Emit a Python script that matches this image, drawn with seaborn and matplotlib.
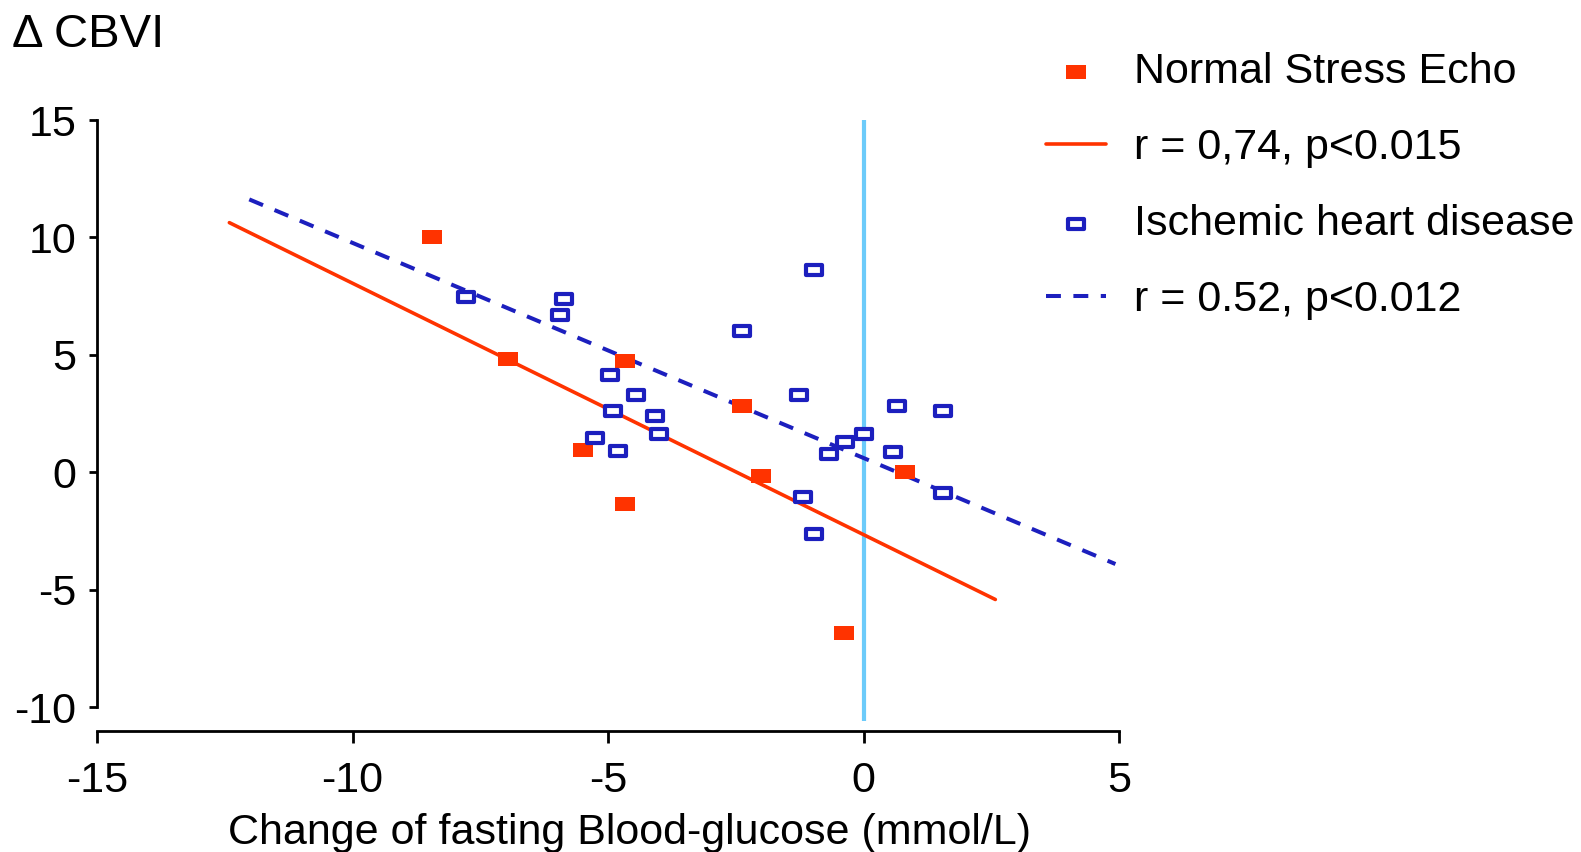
import matplotlib.pyplot as plt
import seaborn as sns
from matplotlib.path import Path

# ── Data ──────────────────────────────────────────────────────────────────────
normal_x = [-8.45, -6.96, -4.67, -2.38, -5.48, -4.67, -2.00, 0.82, -0.38]
normal_y = [10.03, 4.82, 4.72, 2.82, 0.96, -1.34, -0.18, 0.03, -6.83]

ihd_x = [-7.78, -5.86, -5.93, -4.96, -4.45, -4.90, -4.08, -4.00, -5.25, -4.80,
         -0.96, -2.37, -1.26, 0.66, 1.55, 0.00, -0.37, -0.67, 0.58, 1.55,
         -1.19, -0.96]
ihd_y = [7.46, 7.37, 6.68, 4.15, 3.30, 2.61, 2.41, 1.64, 1.44, 0.89,
         8.62, 6.00, 3.30, 2.80, 2.61, 1.64, 1.29, 0.78, 0.86, -0.88,
         -1.07, -2.63]

# regression lines as printed on the figure (end points)
normal_fit_x = [-12.41, 2.58]
normal_fit_y = [10.63, -5.42]
ihd_fit_x = [-12.02, 4.93]
ihd_fit_y = [11.62, -3.91]

# reference line at zero change
zero_x = 0
zero_y_range = [-10.6, 15]

x_ticks = [-15, -10, -5, 0, 5]
y_ticks = [-10, -5, 0, 5, 10, 15]

labels = ["Normal Stress Echo", "r = 0,74, p<0.015",
          "Ischemic heart disease", "r = 0.52, p<0.012"]

RED = "#ff3300"
BLUE = "#1c1fbe"
SKY = "#6ccbfa"

# ── Style ─────────────────────────────────────────────────────────────────────
sns.set_style("ticks")
plt.rcParams["font.family"] = ["Liberation Sans", "DejaVu Sans"]
plt.rcParams.update({"text.color": "black", "axes.labelcolor": "black",
                     "xtick.color": "black", "ytick.color": "black"})

# flat rectangle markers, wider than tall
rect_fill = Path([(-1, -0.69), (1, -0.69), (1, 0.69), (-1, 0.69), (-1, -0.69)],
                 closed=True)
rect_open = Path([(-1, -0.66), (1, -0.66), (1, 0.66), (-1, 0.66), (-1, -0.66)],
                 closed=True)

fig = plt.figure(figsize=(15.81, 8.52), dpi=100)
ax = fig.add_axes([97 / 1581, 121.5 / 852, 1022 / 1581, 617.5 / 852])

sns.scatterplot(x=normal_x, y=normal_y, marker=rect_fill, s=200, color=RED,
                edgecolor=RED, linewidth=0, label=labels[0], ax=ax, zorder=4)
sns.lineplot(x=normal_fit_x, y=normal_fit_y, color=RED, linewidth=2.6,
             label=labels[1], ax=ax, zorder=3)
sns.scatterplot(x=ihd_x, y=ihd_y, marker=rect_open, s=118, color=BLUE,
                facecolor="white", edgecolor=BLUE, linewidth=3,
                label=labels[2], ax=ax, zorder=5)
sns.lineplot(x=ihd_fit_x, y=ihd_fit_y, color=BLUE, linewidth=2.9,
             linestyle=(0, (3.7, 3.1)), label=labels[3], ax=ax, zorder=3)
ax.vlines(zero_x, zero_y_range[0], zero_y_range[1], color=SKY,
          linewidth=3, zorder=2)

handles, _ = ax.get_legend_handles_labels()
if ax.get_legend() is not None:
    ax.get_legend().remove()

# ── Axes ──────────────────────────────────────────────────────────────────────
ax.set_xlim(-15, 5)
ax.set_ylim(-11, 15.3)
ax.set_xticks(x_ticks)
ax.set_yticks(y_ticks)
ax.set_xticklabels([str(t) for t in x_ticks])
ax.set_yticklabels([str(t) for t in y_ticks])

for side in ["top", "right"]:
    ax.spines[side].set_visible(False)
for side in ["left", "bottom"]:
    ax.spines[side].set_linewidth(2)
    ax.spines[side].set_color("black")
ax.spines["left"].set_bounds(-10, 15)
ax.spines["bottom"].set_bounds(-15, 5)

ax.tick_params(axis="x", direction="out", length=8.6, width=2, pad=13,
               labelsize=31)
ax.tick_params(axis="y", direction="out", length=5.8, width=2, pad=9,
               labelsize=31)

ax.set_xlabel("Change of fasting Blood-glucose (mmol/L)", fontsize=31)
ax.xaxis.set_label_coords(0.521, -0.133)
ax.set_ylabel("\u0394 CBVI", fontsize=34, rotation=0, ha="left", va="center")
ax.yaxis.set_label_coords(-0.0832, 1.127)

fig.legend(handles, labels, loc="upper left",
           bbox_to_anchor=(1046 / 1581, 1 - 52 / 852),
           frameon=False, fontsize=31, handlelength=1.40, handletextpad=0.64,
           labelspacing=0.84, borderpad=0, borderaxespad=0)

plt.savefig("out.png", dpi=100)
plt.close()
